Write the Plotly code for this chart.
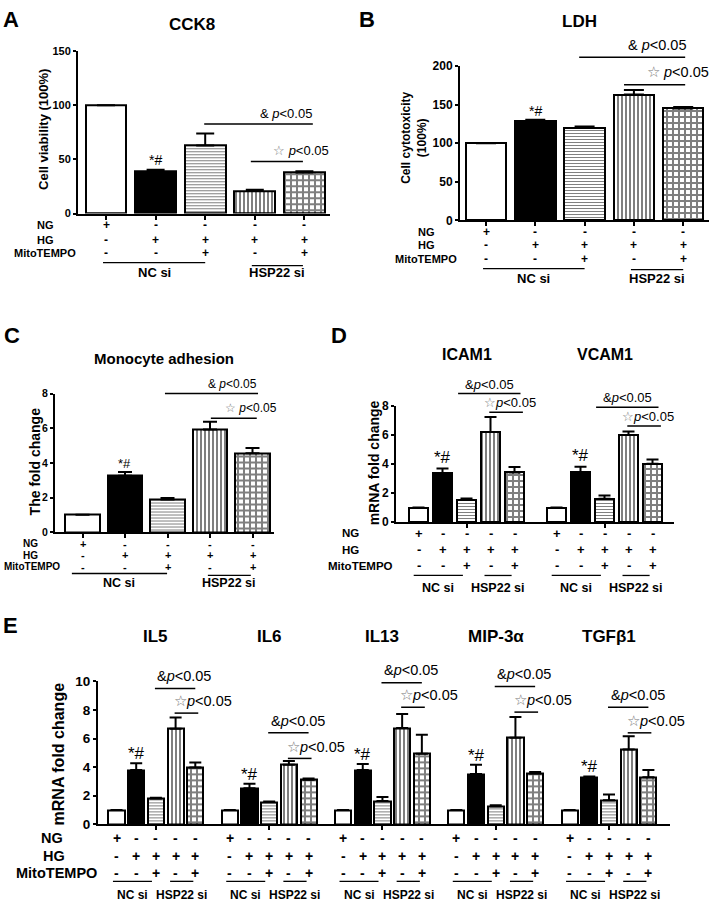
import plotly.graph_objects as go

W, H = 714, 909
FONT = "Arial, 'Liberation Sans', sans-serif"

# ---------------- data ----------------
ng_row = ["+", "-", "-", "-", "-"]
hg_row = ["-", "+", "+", "+", "+"]
mito_row = ["-", "-", "+", "-", "+"]

cck8_mean = [100, 39, 63, 21, 38]
cck8_sem = [0, 1.5, 11, 1, 1]

ldh_mean = [100, 129, 120, 163, 145]
ldh_sem = [0, 1.5, 1.5, 6, 2]

adhesion_mean = [1.0, 3.25, 1.89, 5.92, 4.55]
adhesion_sem = [0, 0.22, 0.08, 0.45, 0.3]

d_genes = ["ICAM1", "VCAM1"]
icam1_mean = [1.0, 3.35, 1.54, 6.2, 3.42]
icam1_sem = [0, 0.34, 0.08, 1.05, 0.38]
vcam1_mean = [1.0, 3.42, 1.6, 6.01, 4.02]
vcam1_sem = [0, 0.4, 0.23, 0.23, 0.3]

e_genes = ["IL5", "IL6", "IL13", "MIP-3α", "TGFβ1"]
il5_mean = [1.0, 3.8, 1.8, 6.68, 3.97]
il5_sem = [0, 0.47, 0.06, 0.8, 0.35]
il6_mean = [1.0, 2.53, 1.56, 4.16, 3.12]
il6_sem = [0, 0.3, 0.03, 0.27, 0.08]
il13_mean = [1.0, 3.79, 1.63, 6.74, 4.94]
il13_sem = [0, 0.42, 0.28, 0.98, 1.33]
mip3a_mean = [1.0, 3.51, 1.26, 6.05, 3.56]
mip3a_sem = [0, 0.65, 0.08, 1.45, 0.1]
tgfb1_mean = [1.0, 3.29, 1.68, 5.24, 3.29]
tgfb1_sem = [0, 0.06, 0.41, 0.92, 0.5]

# bar styles: NG, HG, HG+MitoTEMPO, HSP22si HG, HSP22si HG+MitoTEMPO
# (color, pattern shape, pattern size, solidity)
STYLES = [("white", "", 8, 0.3),
          ("black", "", 8, 0.3),
          ("white", "-", 3, 0.34),
          ("white", "|", 4, 0.5),
          ("white", "+", 6, 0.56)]

GROUP_GAP = 5.75  # spacing between gene groups, in bar units

# pixel geometry of each plot box
GEO = {
    "A": dict(left=78, right=330, top=45, bottom=210, c0=106, pitch=49.6, ymax=150, dtick=50),
    "B": dict(left=460, right=709, top=60, bottom=217, c0=486, pitch=49.3, ymax=200, dtick=50),
    "C": dict(left=55, right=274, top=393, bottom=534, c0=82.5, pitch=42.5, ymax=8, dtick=2),
    "D": dict(left=396, right=674, top=405.7, bottom=523.7, c0=418.5, pitch=24, ymax=8, dtick=2),
    "E": dict(left=98, right=670, top=685.7, bottom=831, c0=116.5, pitch=19.7, ymax=10, dtick=2),
}
AX = {"A": "", "B": "2", "C": "3", "D": "4", "E": "5"}


def px(p, xv):
    g = GEO[p]
    return g["c0"] + g["pitch"] * xv


def py(p, yv):
    g = GEO[p]
    return g["bottom"] - (g["bottom"] - g["top"]) * yv / g["ymax"]


def fx(x):
    return x / W


def fy(y):
    return 1 - y / H


anns = []
shapes = []


def text(x, y, s, size, bold=False, xanchor="center", angle=0, color="black"):
    anns.append(dict(x=fx(x), y=fy(y), xref="paper", yref="paper", text=s,
                     showarrow=False, xanchor=xanchor, yanchor="middle",
                     textangle=angle, borderpad=0,
                     font=dict(family=FONT, size=size, color=color,
                               weight="bold" if bold else "normal")))


def hline(x0, x1, y, w=1.5, color="black"):
    shapes.append(dict(type="line", xref="paper", yref="paper",
                       x0=fx(x0), x1=fx(x1), y0=fy(y), y1=fy(y),
                       line=dict(color=color, width=w)))


fig = go.Figure()


def bars(p, xs, means, sems, cap):
    # one trace per bar style so every pattern setting stays scalar
    n = AX[p]
    for k, (col, shp, sz, sol) in enumerate(STYLES):
        idx = [j for j in range(len(xs)) if j % 5 == k]
        fig.add_trace(go.Bar(
            x=[xs[j] for j in idx], y=[means[j] for j in idx],
            width=0.82, xaxis="x" + n, yaxis="y" + n,
            marker=dict(color=col, line=dict(color="black", width=2),
                        pattern=dict(shape=shp, fgcolor="black", bgcolor="white",
                                     size=sz, solidity=sol)),
            error_y=dict(type="data", symmetric=False,
                         array=[sems[j] for j in idx], arrayminus=[0] * len(idx),
                         color="black", thickness=2, width=cap),
            showlegend=False, hoverinfo="skip"))


def sig(p, x0, x1, yv, tx, anchor, label, size, gap, tight=False):
    y = py(p, yv)
    hline(px(p, x0), px(p, x1), y)
    sp = "" if tight else " "
    if label == "&":
        s = "&amp;" + sp + "<i>p</i>&lt;0.05"
    else:
        s = '<span style="color:#777">☆</span>' + sp + "<i>p</i>&lt;0.05"
    text(px(p, tx), y - gap, s, size, xanchor=anchor)


def table(p, offsets, rows_y, label_x, lab_size, sign_size, line_y, grp_y,
          grp_size, nc_span, hsp_span):
    labels = ["NG", "HG", "MitoTEMPO"]
    for lab, row, ry, lx in zip(labels, [ng_row, hg_row, mito_row], rows_y, label_x):
        text(lx, ry, lab, lab_size, bold=True)
        for off in offsets:
            for i, s in enumerate(row):
                text(px(p, off + i), ry, s, sign_size, bold=True)
    for off in offsets:
        a, b = px(p, off + nc_span[0]), px(p, off + nc_span[1])
        hline(a, b, line_y[0], 1.3)
        text((a + b) / 2, grp_y, "NC si", grp_size, bold=True)
        a, b = px(p, off + hsp_span[0]), px(p, off + hsp_span[1])
        hline(a, b, line_y[1], 1.3)
        text((a + b) / 2, grp_y, "HSP22 si", grp_size, bold=True)


# ---------------- A: CCK8 ----------------
bars("A", list(range(5)), cck8_mean, cck8_sem, 9)
text(px("A", 1), py("A", cck8_mean[1] + cck8_sem[1]) - 10, "*#", 14)
sig("A", 1.98, 4.17, 82.7, 4.17, "right", "&", 13, 11)
sig("A", 2.92, 3.97, 48.2, 4.52, "right", "☆", 13, 11)
table("A", [0], [222, 237, 250], [45, 45, 45], 11, 12, [260, 263], 270, 13,
      (-0.06, 2.0), (2.94, 3.97))
text(192, 18, "CCK8", 17, bold=True)
text(11, 13, "A", 22, bold=True)
text(44, 125, "Cell viability (100%)", 13, bold=True, angle=-90)

# ---------------- B: LDH ----------------
bars("B", list(range(5)), ldh_mean, ldh_sem, 10)
text(px("B", 1), py("B", ldh_mean[1] + ldh_sem[1]) - 9, "*#", 14)
sig("B", 1.89, 4.04, 211.5, 4.07, "right", "&", 14.5, 12.5)
sig("B", 2.8, 4.04, 175.8, 4.55, "right", "☆", 14.5, 12.5)
table("B", [0], [229, 242, 256], [426, 426, 426], 11, 12, [266, 267], 276, 13,
      (-0.06, 2.0), (2.94, 4.0))
text(579, 15, "LDH", 17, bold=True)
text(367, 13, "B", 22, bold=True)
text(414, 133, "Cell cytotoxicity<br>(100%)", 12, bold=True, angle=-90)

# ---------------- C: monocyte adhesion ----------------
bars("C", list(range(5)), adhesion_mean, adhesion_sem, 7)
text(px("C", 1), py("C", adhesion_mean[1] + adhesion_sem[1]) - 9, "*#", 13)
sig("C", 1.94, 4.13, 8.0, 4.13, "right", "&", 12, 10)
sig("C", 3.02, 4.1, 6.58, 4.6, "right", "☆", 12, 10)
table("C", [0], [546, 557.5, 569], [30, 30, 32], 10, 11, [576, 578], 586, 12.5,
      (-0.25, 1.99), (2.95, 3.96))
text(164, 357, "Monocyte adhesion", 15, bold=True)
text(12, 334, "C", 22, bold=True)
text(35, 462, "The fold change", 14, bold=True, angle=-90)

# ---------------- D: ICAM1 / VCAM1 ----------------
d_off = [0, GROUP_GAP]
d_x = [o + i for o in d_off for i in range(5)]
bars("D", d_x, icam1_mean + vcam1_mean, icam1_sem + vcam1_sem, 6)
for off, m, s in zip(d_off, [icam1_mean, vcam1_mean], [icam1_sem, vcam1_sem]):
    text(px("D", off + 1), py("D", m[1] + s[1]) - 11, "*#", 17)
d_and_y = [8.86, 7.91]
d_star_y = [7.57, 6.62]
for off, ya, ys in zip(d_off, d_and_y, d_star_y):
    sig("D", off + 1.65, off + 4.25, ya, off + 2.95, "center", "&", 13, 9.5, tight=True)
    sig("D", off + 2.95, off + 4.35, ys, off + 3.8, "center", "☆", 13, 9.5, tight=True)
table("D", d_off, [535, 552, 568], [350, 350, 360], 11.5, 13, [578, 578], 591, 12.5,
      (-0.2, 1.85), (2.75, 3.88))
for off, gname in zip(d_off, d_genes):
    text(px("D", off + 2), 353, gname, 16, bold=True)
text(339, 334, "D", 22, bold=True)
text(374, 464, "mRNA fold change", 14, bold=True, angle=-90)

# ---------------- E: cytokines ----------------
e_off = [GROUP_GAP * g for g in range(5)]
e_x = [o + i for o in e_off for i in range(5)]
e_means = [il5_mean, il6_mean, il13_mean, mip3a_mean, tgfb1_mean]
e_sems = [il5_sem, il6_sem, il13_sem, mip3a_sem, tgfb1_sem]
bars("E", e_x, sum(e_means, []), sum(e_sems, []), 6)
for off, m, s in zip(e_off, e_means, e_sems):
    text(px("E", off + 1), py("E", m[1] + s[1]) - 10, "*#", 17)
e_and_y = [9.5, 6.4, 9.91, 9.64, 8.19]
e_star_y = [7.78, 4.61, 8.19, 7.85, 6.4]
for off, ya, ys in zip(e_off, e_and_y, e_star_y):
    sig("E", off + 1.95, off + 4.0, ya, off + 3.45, "center", "&", 14.5, 12.5, tight=True)
    sig("E", off + 2.95, off + 4.15, ys, off + 4.38, "center", "☆", 14.5, 12, tight=True)
table("E", e_off, [845, 863, 881], [52, 54, 57], 14.5, 14, [889, 889], 903, 12,
      (-0.18, 1.8), (2.72, 3.9))
for off, gname in zip(e_off, e_genes):
    text(px("E", off + 2), 640, gname, 17, bold=True)
text(10, 629, "E", 22, bold=True)
text(58, 760, "mRNA fold change", 16, bold=True, angle=-90)

# ---------------- axes ----------------
layout = dict(width=W, height=H, margin=dict(l=0, r=0, t=0, b=0),
              paper_bgcolor="white", plot_bgcolor="white", barmode="overlay",
              annotations=anns, shapes=shapes, bargap=0)
x_ticks = {"A": list(range(5)), "B": list(range(5)), "C": list(range(5)),
           "D": [o + 2 for o in d_off], "E": [o + 2 for o in e_off]}
y_font = {"A": 11, "B": 12, "C": 10.5, "D": 12, "E": 13.5}
for p, n in AX.items():
    g = GEO[p]
    layout["xaxis" + n] = dict(
        domain=[fx(g["left"]), fx(g["right"])],
        range=[(g["left"] - g["c0"]) / g["pitch"], (g["right"] - g["c0"]) / g["pitch"]],
        anchor="y" + n, showline=True, linewidth=2, linecolor="black",
        ticks="outside", tickwidth=2, ticklen=4, tickcolor="black",
        tickvals=x_ticks[p], showticklabels=False, showgrid=False, zeroline=False)
    layout["yaxis" + n] = dict(
        domain=[fy(g["bottom"]), fy(g["top"])], range=[0, g["ymax"]],
        anchor="x" + n, showline=True, linewidth=2, linecolor="black",
        ticks="outside", tickwidth=2, ticklen=3, tickcolor="black",
        tick0=0, dtick=g["dtick"], showgrid=False, zeroline=False,
        tickfont=dict(family=FONT, size=y_font[p], color="black", weight="bold"))

fig.update_layout(**layout)
# pin the fixed-size figure to the window corner so the page is exactly W x H
pin = ("var s=document.documentElement.style;s.margin='0';s.overflow='hidden';"
       "var b=document.body.style;b.margin='0';b.overflow='hidden';"
       "b.width='%dpx';b.height='%dpx';"
       "var d=document.getElementsByClassName('plotly-graph-div')[0].style;"
       "d.position='fixed';d.left='0';d.top='0';" % (W, H))
fig.write_html("out.html", config={"displayModeBar": False}, post_script=pin)
